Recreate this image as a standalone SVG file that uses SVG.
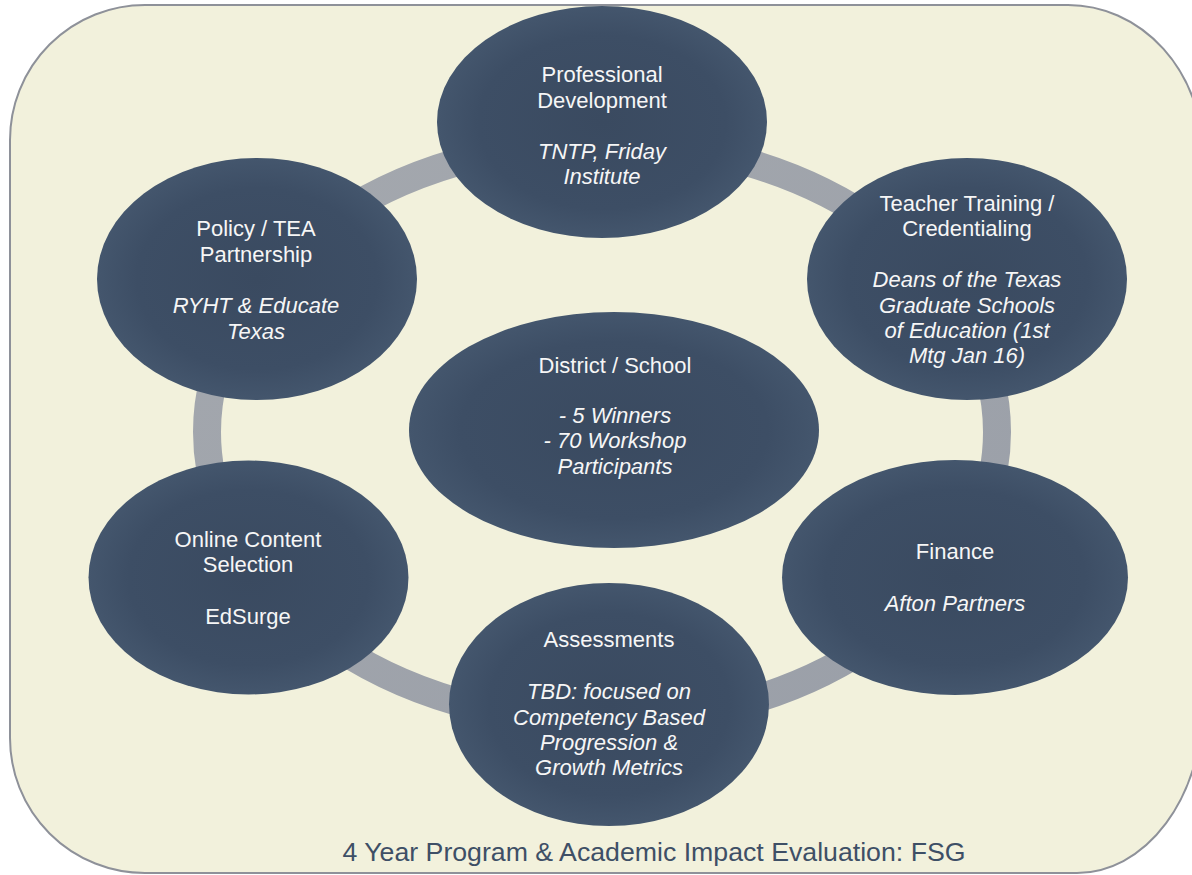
<svg xmlns="http://www.w3.org/2000/svg" width="1192" height="875" viewBox="0 0 1192 875">
<defs>
<radialGradient id="nodeFill" cx="50%" cy="50%" r="50%">
<stop offset="0" stop-color="#3a4a60"/>
<stop offset="0.75" stop-color="#3d4e65"/>
<stop offset="1" stop-color="#44566d"/>
</radialGradient>
<linearGradient id="ringGrad" x1="0" y1="0" x2="1" y2="1">
<stop offset="0" stop-color="#a4a8ae"/>
<stop offset="1" stop-color="#9a9fa8"/>
</linearGradient>
<style>
.node{fill:url(#nodeFill);}
.t{font-family:"Liberation Sans",Arial,sans-serif;font-size:22px;fill:#f6f6f6;text-anchor:middle;}
.i{font-style:italic;}
.foot{font-family:"Liberation Sans",Arial,sans-serif;font-size:26.7px;fill:#3e4f66;text-anchor:middle;}
</style>
</defs>
<path d="M 145 5 H 1068 A 135 150 0 0 1 1203 155 V 703 A 126 170 0 0 1 1077 873 H 145 A 135 135 0 0 1 10 738 V 140 A 135 135 0 0 1 145 5 Z" fill="#f2f1dc" stroke="#8e9199" stroke-width="2"/>
<g id="connectors">
<ellipse cx="602" cy="432" rx="395" ry="290" fill="none" stroke="url(#ringGrad)" stroke-width="28"/>
</g>
<g id="professional-development">
<ellipse class="node" cx="602" cy="122" rx="165" ry="116"/>
<text class="t" x="602" y="82">Professional</text>
<text class="t" x="602" y="108">Development</text>
<text class="t i" x="602" y="159">TNTP, Friday</text>
<text class="t i" x="602" y="184">Institute</text>
</g>
<g id="teacher-training">
<ellipse class="node" cx="967" cy="279" rx="160" ry="121"/>
<text class="t" x="967" y="211">Teacher Training /</text>
<text class="t" x="967" y="236">Credentialing</text>
<text class="t i" x="967" y="287">Deans of the Texas</text>
<text class="t i" x="967" y="313">Graduate Schools</text>
<text class="t i" x="967" y="338">of Education (1st</text>
<text class="t i" x="967" y="363">Mtg Jan 16)</text>
</g>
<g id="policy-tea">
<ellipse class="node" cx="257" cy="279" rx="160" ry="121"/>
<text class="t" x="256" y="236">Policy / TEA</text>
<text class="t" x="256" y="262">Partnership</text>
<text class="t i" x="256" y="313">RYHT &amp; Educate</text>
<text class="t i" x="256" y="339">Texas</text>
</g>
<g id="district-school">
<ellipse class="node" cx="614" cy="430" rx="205" ry="118"/>
<text class="t" x="615" y="373">District / School</text>
<text class="t i" x="615" y="423">- 5 Winners</text>
<text class="t i" x="615" y="448">- 70 Workshop</text>
<text class="t i" x="615" y="474">Participants</text>
</g>
<g id="online-content">
<ellipse class="node" cx="248.5" cy="577.5" rx="160" ry="117"/>
<text class="t" x="248" y="547">Online Content</text>
<text class="t" x="248" y="572">Selection</text>
<text class="t" x="248" y="624">EdSurge</text>
</g>
<g id="finance">
<ellipse class="node" cx="955" cy="577.5" rx="173" ry="117.5"/>
<text class="t" x="955" y="559">Finance</text>
<text class="t i" x="955" y="611">Afton Partners</text>
</g>
<g id="assessments">
<ellipse class="node" cx="609" cy="704.5" rx="160" ry="121.5"/>
<text class="t" x="609" y="647">Assessments</text>
<text class="t i" x="609" y="699">TBD: focused on</text>
<text class="t i" x="609" y="725">Competency Based</text>
<text class="t i" x="609" y="750">Progression &amp;</text>
<text class="t i" x="609" y="775">Growth Metrics</text>
</g>
<g id="footer">
<text class="foot" x="654" y="861">4 Year Program &amp; Academic Impact Evaluation: FSG</text>
</g>
</svg>
